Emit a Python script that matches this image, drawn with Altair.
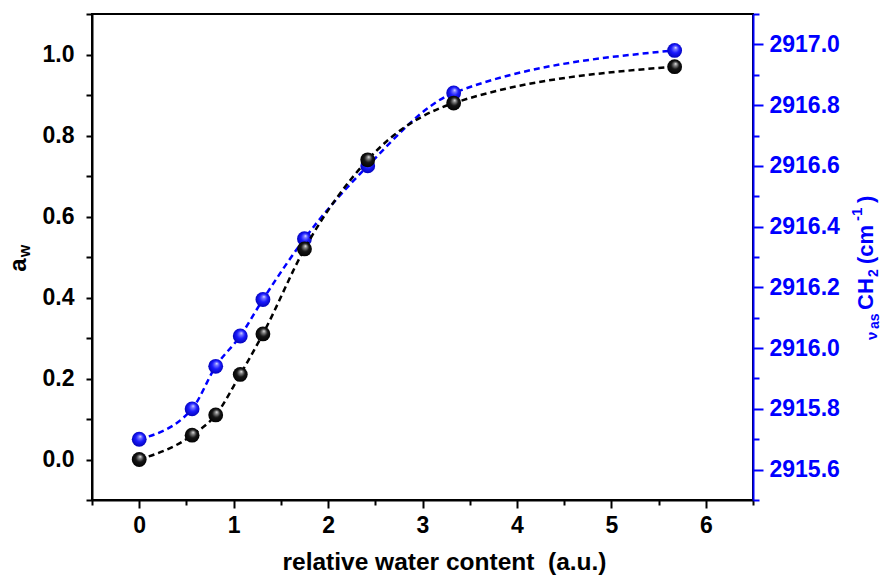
import altair as alt
import pandas as pd

# ---- data ----
water = [0.0, 0.56, 0.81, 1.07, 1.31, 1.75, 2.42, 3.33, 5.67]
aw = [0.0, 0.06, 0.11, 0.21, 0.31, 0.52, 0.74, 0.88, 0.97]
nu_ch2 = [2915.70, 2915.80, 2915.94, 2916.04, 2916.16, 2916.36, 2916.60, 2916.84, 2916.98]

x_ticks = [-0.5, 0, 0.5, 1, 1.5, 2, 2.5, 3, 3.5, 4, 4.5, 5, 5.5, 6, 6.5]
aw_ticks = [-0.1, 0.0, 0.1, 0.2, 0.3, 0.4, 0.5, 0.6, 0.7, 0.8, 0.9, 1.0, 1.1]
nu_ticks = [2915.5, 2915.6, 2915.7, 2915.8, 2915.9, 2916.0, 2916.1, 2916.2,
            2916.3, 2916.4, 2916.5, 2916.6, 2916.7, 2916.8, 2916.9, 2917.0, 2917.1]

df = pd.DataFrame({"water": water, "aw": aw, "nu": nu_ch2})
one = pd.DataFrame({"k": [0]})

FONT = "Liberation Sans"
BLUE = "#0000ff"

x_enc = alt.X(
    "water:Q",
    scale=alt.Scale(domain=[-0.5, 6.5], nice=False, zero=False),
    axis=alt.Axis(
        values=x_ticks,
        labelExpr="datum.value % 1 === 0 ? format(datum.value, 'd') : ''",
        tickSize={"condition": {"test": "datum.value % 1 === 0", "value": 8}, "value": 5},
        title="relative water content\u00a0 (a.u.)",
        titleFontSize=24.5,
        titlePadding=13,
        titleX=352,
        titleAlign="center",
        labelPadding=6,
    ),
)

black_ball = alt.RadialGradient(
    gradient="radial",
    stops=[
        alt.GradientStop(color="#f0f0f0", offset=0.0),
        alt.GradientStop(color="#8a8a8a", offset=0.18),
        alt.GradientStop(color="#151515", offset=0.5),
        alt.GradientStop(color="#000000", offset=1.0),
    ],
    x1=0.58, y1=0.3, r1=0.0, x2=0.5, y2=0.5, r2=0.55,
)
blue_ball = alt.RadialGradient(
    gradient="radial",
    stops=[
        alt.GradientStop(color="#e8ecff", offset=0.0),
        alt.GradientStop(color="#7a7aff", offset=0.18),
        alt.GradientStop(color="#1a1aff", offset=0.5),
        alt.GradientStop(color="#0000b0", offset=1.0),
    ],
    x1=0.58, y1=0.3, r1=0.0, x2=0.5, y2=0.5, r2=0.55,
)

nu_axis = alt.Axis(
    orient="right",
    values=nu_ticks,
    labelExpr="round(datum.value * 10) % 2 == 0 ? format(datum.value, '.1f') : ''",
    tickSize={"condition": {"test": "round(datum.value * 10) % 2 == 0", "value": 10}, "value": 6},
    title=None,
    labelColor=BLUE,
    tickColor=BLUE,
    domainColor=BLUE,
    labelPadding=6,
)
nu_y = alt.Y("nu:Q", scale=alt.Scale(domain=[2915.5, 2917.1], nice=False, zero=False), axis=nu_axis)

blue_base = alt.Chart(df).encode(x=x_enc, y=nu_y)
blue_line = blue_base.mark_line(color=BLUE, strokeWidth=2.5, strokeDash=[6, 4], interpolate="monotone")
blue_pts = blue_base.mark_point(filled=True, fill=blue_ball, size=220, opacity=1, strokeWidth=0)
blue_layer = alt.layer(blue_line, blue_pts)

aw_axis = alt.Axis(
    orient="left",
    values=aw_ticks,
    labelExpr="abs(round(datum.value * 10)) % 2 == 0 ? format(datum.value, '.1f') : ''",
    tickSize=6,
    title=None,
    labelPadding=12,
)
aw_y = alt.Y("aw:Q", scale=alt.Scale(domain=[-0.1, 1.1], nice=False, zero=False), axis=aw_axis)

black_base = alt.Chart(df).encode(x=x_enc, y=aw_y)
black_line = black_base.mark_line(color="black", strokeWidth=2.5, strokeDash=[6, 4], interpolate="monotone")
black_pts = black_base.mark_point(filled=True, fill=black_ball, size=220, opacity=1, strokeWidth=0)


def rot_text(txt, size, x, y, color, align="left"):
    return alt.Chart(one).mark_text(
        text=txt, font=FONT, fontWeight="bold", fontSize=size, angle=270,
        color=color, align=align, baseline="alphabetic",
    ).encode(x=alt.value(x), y=alt.value(y))


# left title: a_w
left_title = [
    rot_text("a", 24, -66, 251, "black", align="center"),
    rot_text("w", 16, -62, 237, "black", align="center"),
]
# right title: ν_as CH_2 (cm^-1)
right_title = [
    rot_text("ν", 15, 785, 326, BLUE),
    rot_text("as", 14, 787, 315, BLUE),
    rot_text("CH", 22, 781, 296, BLUE),
    rot_text("2", 14, 786, 263, BLUE),
    rot_text("(cm", 22, 781, 250, BLUE),
    rot_text("-1", 15, 770, 207, BLUE),
    rot_text(")", 22, 781, 189, BLUE),
]

black_layer = alt.layer(black_line, black_pts, *left_title, *right_title)

chart = (
    alt.layer(blue_layer, black_layer)
    .resolve_scale(y="independent")
    .properties(
        width=661,
        height=486,
        autosize=alt.AutoSizeParams(type="none"),
        padding={"left": 92, "top": 14, "right": 128, "bottom": 79},
    )
    .configure_view(stroke="black", strokeWidth=2)
    .configure_axis(
        labelFont=FONT,
        labelFontSize=23,
        labelFontWeight="bold",
        titleFont=FONT,
        titleFontSize=22,
        titleFontWeight="bold",
        domainWidth=2,
        tickWidth=2,
        domainColor="black",
        tickColor="black",
        labelColor="black",
        titleColor="black",
        grid=False,
    )
)

chart.save("out.html", embed_options={"renderer": "svg", "actions": False})
